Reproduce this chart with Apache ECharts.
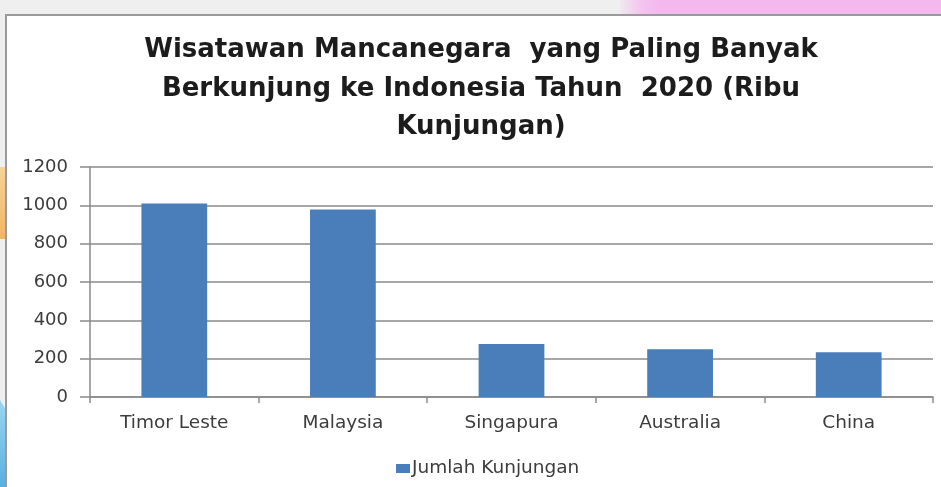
<!DOCTYPE html>
<html>
<head>
<meta charset="utf-8">
<script src="https://cdn.jsdelivr.net/npm/echarts@6/dist/echarts.min.js"></script>
<style>
  html, body { margin: 0; padding: 0; background: #efefef; }
  #chart { width: 941px; height: 487px; }
</style>
</head>
<body>
<div id="chart"></div>
<script>
// Foreign tourist visits to Indonesia, 2020 (thousands)
const categories = ['Timor Leste', 'Malaysia', 'Singapura', 'Australia', 'China'];
const visits = [1010, 978, 277, 249, 233];
const seriesName = 'Jumlah Kunjungan';
const titleLines = [
  'Wisatawan Mancanegara  yang Paling Banyak',
  'Berkunjung ke Indonesia Tahun  2020 (Ribu',
  'Kunjungan)'
];
const yMin = 0, yMax = 1200, yStep = 200;

const FONT = 'DejaVu Sans';
const chart = echarts.init(document.getElementById('chart'), null, { renderer: 'canvas' });

chart.setOption({
  backgroundColor: '#efefef',
  animation: false,
  graphic: [
    // pink band along the top right
    { type: 'rect', z: -10, silent: true,
      shape: { x: 620, y: 0, width: 330, height: 16 },
      style: { fill: new echarts.graphic.LinearGradient(0, 0, 1, 0, [
        { offset: 0, color: '#eeeaee' },
        { offset: 0.06, color: '#f3c6f0' },
        { offset: 0.12, color: '#f3b8ee' },
        { offset: 1, color: '#f3b8ee' }
      ]) } },
    // orange accent on the left edge
    { type: 'rect', z: -10, silent: true,
      shape: { x: 0, y: 167, width: 6, height: 72 },
      style: { fill: new echarts.graphic.LinearGradient(0, 0, 0, 1, [
        { offset: 0, color: '#f6d29a' },
        { offset: 1, color: '#f2b566' }
      ]) } },
    // blue accent at the bottom left
    { type: 'polygon', z: -10, silent: true,
      shape: { points: [[0, 400], [6, 410], [6, 487], [0, 487]] },
      style: { fill: new echarts.graphic.LinearGradient(0, 0, 0, 1, [
        { offset: 0, color: '#9ad6f0' },
        { offset: 1, color: '#5aaee0' }
      ]) } },
    // white chart panel
    { type: 'rect', z: -5, silent: true,
      shape: { x: 6, y: 15, width: 960, height: 500 },
      style: { fill: '#ffffff', stroke: '#9a9a9a', lineWidth: 2 } }
  ],
  title: {
    text: titleLines.join('\n'),
    left: 476,
    top: 26,
    textAlign: 'center',
    textStyle: {
      fontFamily: FONT,
      fontWeight: 600,
      fontSize: 26,
      lineHeight: 38.5,
      color: '#1c1c1c'
    }
  },
  legend: {
    data: [seriesName],
    left: 391,
    top: 454,
    itemWidth: 14,
    itemHeight: 9,
    itemGap: 10,
    icon: 'rect',
    textStyle: { fontFamily: FONT, fontSize: 18.5, color: '#3c3c3c', padding: [0, 0, 0, -3] }
  },
  grid: { left: 90, right: 8, top: 167, bottom: 90, containLabel: false },
  xAxis: {
    type: 'category',
    data: categories,
    boundaryGap: true,
    axisLine: { show: true, lineStyle: { color: '#8a8a8a', width: 1.5 } },
    axisTick: { show: true, alignWithLabel: false, length: 6, lineStyle: { color: '#8a8a8a', width: 1.5 } },
    axisLabel: { fontFamily: FONT, fontSize: 18.5, color: '#3c3c3c', margin: 17 }
  },
  yAxis: {
    type: 'value',
    min: yMin,
    max: yMax,
    interval: yStep,
    axisLine: { show: true, lineStyle: { color: '#8a8a8a', width: 1.5 } },
    axisTick: { show: true, inside: false, length: 10, lineStyle: { color: '#8a8a8a', width: 1.5 } },
    splitLine: { show: true, lineStyle: { color: '#8a8a8a', width: 1.5 } },
    axisLabel: {
      fontFamily: FONT, fontSize: 18, color: '#3c3c3c', margin: 22,
      formatter: (v) => String(v)
    }
  },
  series: [{
    name: seriesName,
    type: 'bar',
    data: visits,
    barWidth: '39%',
    itemStyle: { color: '#4a7ebb' }
  }]
});
</script>
</body>
</html>
